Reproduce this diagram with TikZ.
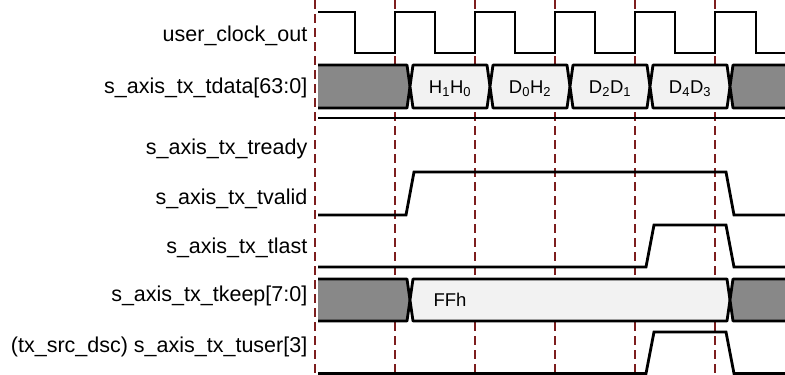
\documentclass[tikz,border=0pt]{standalone}
\usepackage{fontspec}
\setmainfont{Liberation Sans}
\definecolor{gridred}{RGB}{125,30,30}
\definecolor{busgray}{RGB}{136,136,136}
\definecolor{buslight}{RGB}{242,242,242}
\begin{document}
\begin{tikzpicture}[x=1pt,y=-1pt,
 sig/.style={line width=2.8pt, line join=miter, black},
 bus/.style={line width=2.8pt, line join=round, black},
 gridline/.style={line width=1.1pt, draw=gridred, dash pattern=on 9pt off 5pt},
 lbl/.style={anchor=mid east, inner sep=0pt, font=\fontsize{21.5}{24}\selectfont},
 bustext/.style={anchor=base, inner sep=0pt, font=\fontsize{18.5}{20}\selectfont},
 graybus/.style={fill=busgray},
 lightbus/.style={fill=buslight}]
\useasboundingbox (0,0) rectangle (785,375);
\fill[white] (0,0) rectangle (785,375);

% labels
\node[lbl] (lclk)  at (307.5,39)  {user\_clock\_out};
\node[lbl] (ldata) at (307.5,91)  {s\_axis\_tx\_tdata[63:0]};
\node[lbl] (lrdy)  at (307.5,152) {s\_axis\_tx\_tready};
\node[lbl] (lval)  at (307.5,202) {s\_axis\_tx\_tvalid};
\node[lbl] (llast) at (307.5,251) {s\_axis\_tx\_tlast};
\node[lbl] (lkeep) at (307.5,299) {s\_axis\_tx\_tkeep[7:0]};
\node[lbl] (luser) at (307.5,350) {(tx\_src\_dsc) s\_axis\_tx\_tuser[3]};

% dashed grid
\foreach \x in {315,395,475,555,635,715}
  \draw[gridline] (\x,0) -- (\x,375);

% clock
\draw[sig] (318,12) -| (355,53) -| (395,12) -| (435,53) -| (475,12) -| (515,53)
  -| (555,12) -| (595,53) -| (635,12) -| (675,53) -| (715,12) -| (756,53) -- (785,53);

% tdata bus
\fill[graybus] (318,65) -- (407,65) -- (410,86.5) -- (407,108) -- (318,108) -- cycle;
\draw[bus] (318,65) -- (407,65) -- (410,86.5) -- (407,108) -- (318,108);
\foreach \a in {410,490,570,650}
  \filldraw[bus,lightbus] (\a+3,65) -- (\a+77,65) -- (\a+80,86.5) -- (\a+77,108)
    -- (\a+3,108) -- (\a,86.5) -- cycle;
\fill[graybus] (785,65) -- (733,65) -- (730,86.5) -- (733,108) -- (785,108) -- cycle;
\draw[bus] (785,65) -- (733,65) -- (730,86.5) -- (733,108) -- (785,108);
\node[bustext] (d0) at (450,93.1) {H\textsubscript{1}H\textsubscript{0}};
\node[bustext] (d1) at (530,93.1) {D\textsubscript{0}H\textsubscript{2}};
\node[bustext] (d2) at (610,93.1) {D\textsubscript{2}D\textsubscript{1}};
\node[bustext] (d3) at (690,93.1) {D\textsubscript{4}D\textsubscript{3}};

% tready
\draw[sig] (318,118) -- (785,118);

% tvalid
\draw[sig] (318,215) -- (406,215) -- (414,172) -- (726,172) -- (734,215) -- (785,215);

% tlast
\draw[sig] (318,267) -- (646,267) -- (654,225) -- (726,225) -- (734,267) -- (785,267);

% tkeep bus
\fill[graybus] (318,279) -- (407,279) -- (410,300) -- (407,321) -- (318,321) -- cycle;
\draw[bus] (318,279) -- (407,279) -- (410,300) -- (407,321) -- (318,321);
\filldraw[bus,lightbus] (413,279) -- (727,279) -- (730,300) -- (727,321)
    -- (413,321) -- (410,300) -- cycle;
\fill[graybus] (785,279) -- (733,279) -- (730,300) -- (733,321) -- (785,321) -- cycle;
\draw[bus] (785,279) -- (733,279) -- (730,300) -- (733,321) -- (785,321);
\node[bustext] (k0) at (450,306.6) {FFh};

% tuser
\draw[sig] (318,373.5) -- (646,373.5) -- (654,332) -- (726,332) -- (734,373.5) -- (785,373.5);
\end{tikzpicture}
\end{document}
